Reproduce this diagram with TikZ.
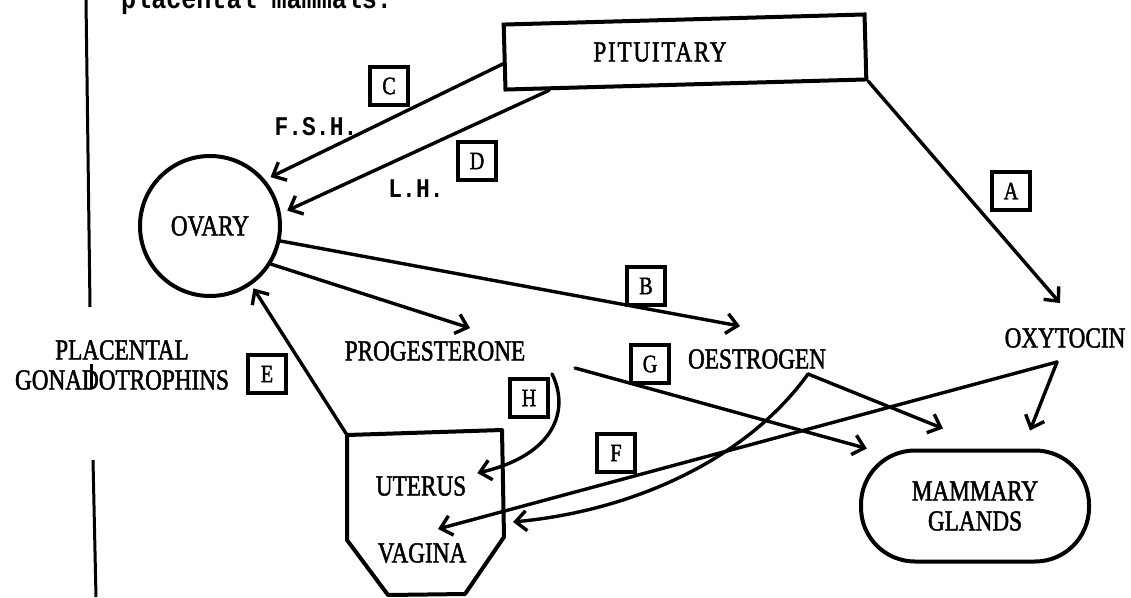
\documentclass[tikz,border=0pt]{standalone}
\usepackage{fontspec}
\usepackage{tikz}
\usetikzlibrary{calc,arrows.meta,positioning}
\newfontfamily\diagfont{Liberation Serif}[FakeStretch=0.8, FakeBold=1.6]
\newfontfamily\typefont{Liberation Mono}[FakeStretch=0.85]
\newcommand{\hfont}{\diagfont\fontsize{29}{30}\selectfont}
\newcommand{\tagfont}{\diagfont\fontsize{25}{25}\selectfont}
\newcommand{\abbrfont}{\typefont\bfseries\fontsize{27}{27}\selectfont}
\newcommand{\capfont}{\typefont\bfseries\fontsize{29.5}{30}\selectfont}
\tikzset{
  hbox/.style={rectangle, draw, line width=4pt, minimum width=361pt,
               minimum height=65pt, inner sep=0pt},
  horgan/.style={circle, draw, line width=4pt, minimum size=140pt,
                 inner sep=0pt, font=\hfont},
  hgland/.style={rectangle, rounded corners=54pt, draw, line width=4pt,
                 minimum width=228pt, minimum height=111pt, inner sep=0pt,
                 align=center, font=\hfont},
  htag/.style={rectangle, draw, line width=3.5pt, minimum width=38pt,
               minimum height=38pt, inner sep=0pt, font=\tagfont},
  hname/.style={inner sep=3pt, align=center, font=\hfont},
  habbr/.style={inner sep=3pt, font=\abbrfont},
  hbody/.style={line width=4pt, line join=round},
  hrule/.style={line width=3pt},
  harrow/.style={line width=3.4pt, line cap=round, line join=round,
                 -{Straight Barb[length=11pt,width=20pt]}},
}

\begin{document}
\begin{tikzpicture}[x=1pt, y=-1pt]
  \useasboundingbox (0,0) rectangle (1131,597);
  \clip (0,0) rectangle (1131,597);
  \node[anchor=base west, inner sep=0pt, font=\capfont] (caption) at (121,9) {placental mammals.};
  \draw[hrule] (86,0) -- (90,307);
  \draw[hrule] (91,364) -- (91,389);
  \draw[hrule] (93,460) -- (96,597);

  \node[hbox, rotate=1.6] (pit) at (685,52) {};
  \node[hname] (pittext) at (660,52) {\addfontfeature{LetterSpace=6}PITUITARY};
  \node[horgan] (ovary) at (210,226) {OVARY};
  \node[hname] (placental) at (122,365) {PLACENTAL\\GONADOTROPHINS};
  \node[hname] (prog) at (435,351) {PROGESTERONE};
  \node[hname] (oes) at (757,359) {OESTROGEN};
  \node[hname] (oxy) at (1065,338) {OXYTOCIN};
  \node[hname] (uterus) at (421,486) {UTERUS};
  \node[hname] (vagina) at (422,553) {VAGINA};
  \node[hgland] (mam) at (975,506) {MAMMARY\\GLANDS};
  \node[habbr] (fsh) at (316,127) {F.S.H.};
  \node[habbr] (lh) at (416,189) {L.H.};
  \draw[hbody] (347,435) coordinate (utl) -- (502,430) -- (504,537)
    -- (465,594) -- (388,595) -- (347,540) -- cycle;

  \node[htag] (tagA) at (1011,191) {A};
  \node[htag] (tagB) at (646,286) {B};
  \node[htag] (tagC) at (389,86)  {C};
  \node[htag] (tagD) at (477,161) {D};
  \node[htag] (tagE) at (267,374) {E};
  \node[htag] (tagF) at (616,453) {F};
  \node[htag] (tagG) at (650,364) {G};
  \node[htag] (tagH) at (529,398) {H};

  \coordinate (oesfork) at (808,374);
  \coordinate (oxyfork) at (1057,362);
  \coordinate (gfrom) at (575,368);
  \coordinate (hfrom) at (552,374);
  \coordinate (vagwall) at (513,522);

  \draw[harrow, shorten >=6pt] ($(pit.north west)!0.6!(pit.south west)$) -- (ovary.40);
  \draw[harrow, shorten >=7pt] ($(pit.south west)!0.125!(pit.south east)$) -- (ovary.10);
  \draw[harrow] (pit.south east) -- ([xshift=-5pt,yshift=22pt]oxy.north);
  \draw[harrow] (ovary.-12) -- ([xshift=-17pt,yshift=20pt]oes.north);
  \draw[harrow] (ovary.-32) -- ([xshift=35pt,yshift=10pt]prog.north);
  \draw[harrow, shorten >=4pt] (utl) -- (ovary.-55);
  \draw[harrow] (gfrom) -- (mam.152);
  \draw[harrow] (oesfork) -- ([xshift=-32pt,yshift=20pt]mam.north);
  \draw[harrow] (oesfork) .. controls (750,455) and (640,510) .. (vagwall);
  \draw[harrow] (oxyfork) -- ([xshift=55pt,yshift=18pt]mam.north);
  \draw[harrow] (oxyfork) -- ([xshift=16pt,yshift=11pt]vagina.north);
  \draw[harrow] (hfrom) .. controls (570,410) and (555,455) .. ([xshift=8pt]uterus.north east);
\end{tikzpicture}
\end{document}
